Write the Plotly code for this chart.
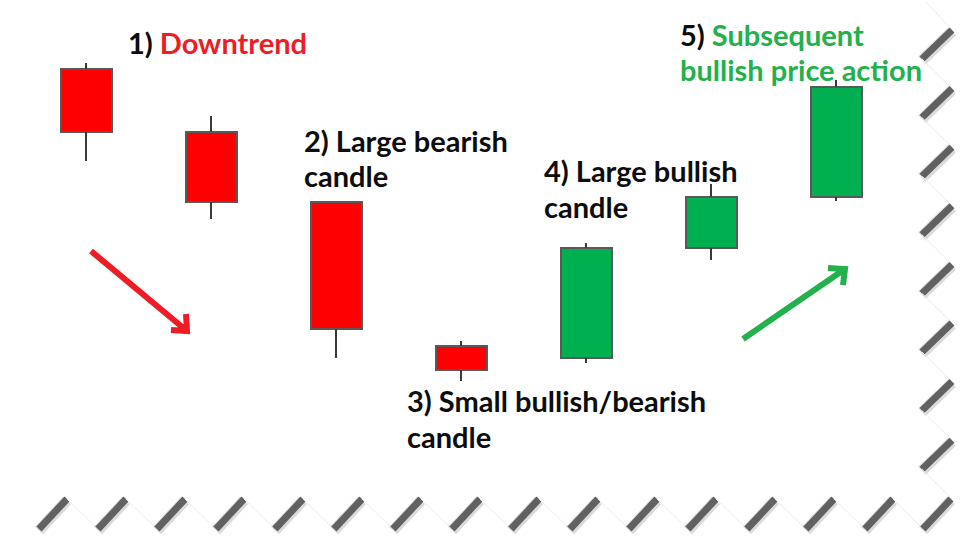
import plotly.graph_objects as go

# ---------------- data ----------------
candles = [1, 2, 3, 4, 5, 6, 7]
opens = [97.2, 84.6, 70.6, 41.8, 39.4, 61.4, 71.6]
closes = [84.6, 70.6, 45.2, 37.0, 61.4, 71.6, 93.6]
highs = [98.4, 87.8, 70.6, 42.8, 62.4, 74.2, 95.0]
lows = [78.8, 67.2, 39.4, 34.8, 38.4, 59.0, 70.8]

BULL = "#00B050"
BEAR = "#FF0000"
RED_TXT = "#EE1C25"
GREEN_TXT = "#22B14C"
W, H = 980, 555
FONT = "Lato"

fig = go.Figure()

# wicks (upper and lower parts only)
wx, wy = [], []
for x, o, c, h, l in zip(candles, opens, closes, highs, lows):
    top, bot = max(o, c), min(o, c)
    if h > top:
        wx += [x, x, None]
        wy += [top, h, None]
    if l < bot:
        wx += [x, x, None]
        wy += [bot, l, None]
fig.add_trace(go.Scatter(x=wx, y=wy, mode="lines",
                         line=dict(color="#3a3a3a", width=2),
                         hoverinfo="skip"))

# bodies
fig.add_trace(go.Bar(
    x=candles,
    base=[min(o, c) for o, c in zip(opens, closes)],
    y=[abs(c - o) for o, c in zip(opens, closes)],
    width=0.408,
    marker=dict(color=[BULL if c > o else BEAR for o, c in zip(opens, closes)],
                line=dict(color="#595959", width=2)),
))


def px(x, y):
    return x / W, 1 - y / H


shapes = []

# torn paper edge (decoration)
def seg(p0, p1, color, width):
    x0, y0 = px(*p0)
    x1, y1 = px(*p1)
    shapes.append(dict(type="line", xref="paper", yref="paper",
                       x0=x0, y0=y0, x1=x1, y1=y1,
                       line=dict(color=color, width=width)))

def dark(p0, p1):
    seg((p0[0], p0[1] + 1.5), (p1[0], p1[1] + 1.5), "rgba(110,110,110,0.25)", 11)
    seg(p0, p1, "#616161", 7)

faint = "#ebebeb"
period = 58.6
# right edge
rx_peak, rx_valley = 952, 922
right_peaks = [30 + period * k for k in range(8)]
seg((926, 2), (rx_peak, right_peaks[0]), faint, 1)
for k, yp in enumerate(right_peaks):
    yv = yp + 29
    dark((rx_peak, yp), (rx_valley, yv))
    nxt = right_peaks[k + 1] if k + 1 < len(right_peaks) else 499
    seg((rx_valley, yv), (rx_peak, nxt), faint, 1)
# bottom edge
bottom_peaks = [67 + 59 * k for k in range(15)] + [951]
for k, xp in enumerate(bottom_peaks):
    dark((xp - 28, 529), (xp, 499))
    if k + 1 < len(bottom_peaks):
        seg((xp, 499), (bottom_peaks[k + 1] - 28, 529), faint, 1)

# arrows
def arrow(tail, tip, a1, a2, color):
    pts = [px(*p) for p in (tail, tip, a1, a2)]
    path = "M {0[0]},{0[1]} L {1[0]},{1[1]} M {2[0]},{2[1]} L {1[0]},{1[1]} L {3[0]},{3[1]}".format(*pts)
    shapes.append(dict(type="path", xref="paper", yref="paper", path=path,
                       line=dict(color=color, width=6)))

arrow((91, 251), (187, 331), (186, 314), (171, 330), RED_TXT)
arrow((743, 339), (845, 269), (828, 268), (843, 285), GREEN_TXT)

# text
labels = [
    ("1) <span style='color:%s'>Downtrend</span>" % RED_TXT, 127, 42),
    ("5) <span style='color:%s'>Subsequent</span>" % GREEN_TXT, 679, 34),
    ("<span style='color:%s'>bullish price action</span>" % GREEN_TXT, 679, 69),
    ("2) Large bearish", 303, 140),
    ("candle", 303, 175),
    ("4) Large bullish", 543, 171),
    ("candle", 543, 206),
    ("3) Small bullish/bearish", 406, 401),
    ("candle", 406, 436),
]
annotations = []
for txt, x, y in labels:
    xp, yp = px(x, y)
    annotations.append(dict(text="<b>%s</b>" % txt, x=xp, y=yp, xref="paper", yref="paper",
                            xanchor="left", yanchor="middle", showarrow=False,
                            borderpad=0,
                            font=dict(family=FONT, size=29, color="#0d0d0d")))

fig.update_layout(
    width=W, height=H, margin=dict(l=0, r=0, t=0, b=0),
    paper_bgcolor="white", plot_bgcolor="white",
    showlegend=False, shapes=shapes, annotations=annotations,
    xaxis=dict(range=[1 - 86 / 125, 1 + 894 / 125], visible=False, fixedrange=True),
    yaxis=dict(range=[0, H / 5], visible=False, fixedrange=True),
    bargap=0,
)

fig.write_html("out.html", config={"displayModeBar": False})
